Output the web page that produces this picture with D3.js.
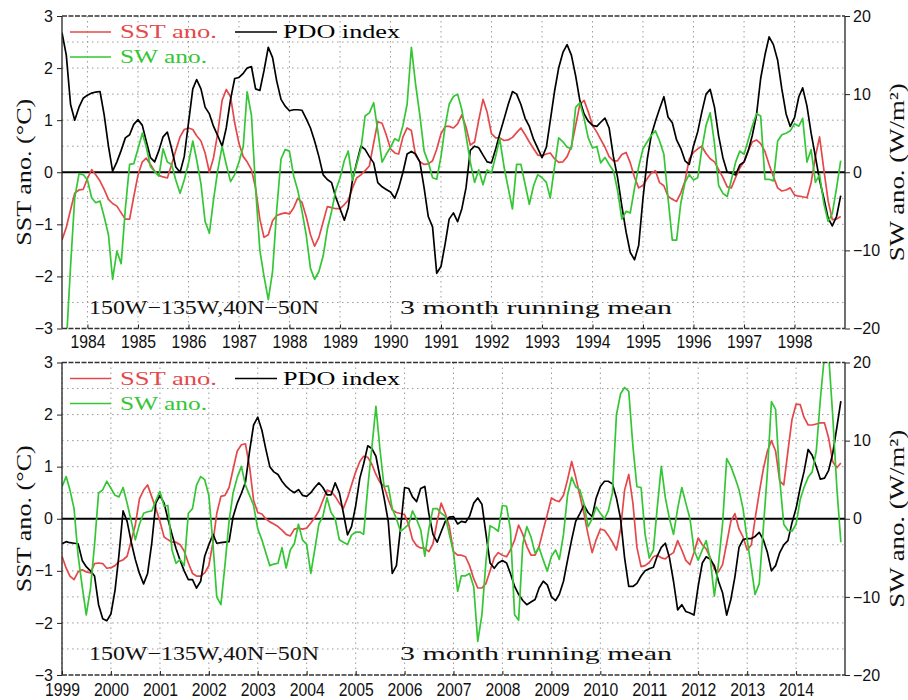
<!DOCTYPE html>
<html><head><meta charset="utf-8">
<script src="https://cdn.jsdelivr.net/npm/d3@7"></script>
<style>body{margin:0;background:#fff}</style>
</head><body><svg id="c" width="908" height="700"></svg>
<script>
// ---------------- DATA ----------------
// Top panel: monthly values, Jul 1983 .. Dec 1998 (3 month running mean)
const topStart = [1983, 7];
const topSST = [-1.3,-1.06,-0.72,-0.4,-0.34,-0.33,-0.12,0.05,-0.05,-0.17,
-0.33,-0.52,-0.6,-0.65,-0.78,-0.9,-0.9,-0.47,-0.05,0.2,
0.27,0.15,0.02,-0.06,-0.09,-0.11,0.15,0.42,0.68,0.82,
0.85,0.82,0.7,0.6,0.37,0.0,0.28,0.76,1.38,1.59,
1.45,0.95,0.55,0.3,0.2,0.05,-0.3,-0.9,-1.25,-1.2,
-0.93,-0.83,-0.8,-0.78,-0.8,-0.68,-0.5,-0.58,-0.85,-1.2,
-1.42,-1.25,-0.95,-0.66,-0.68,-0.7,-0.7,-0.62,-0.54,-0.3,
-0.11,-0.05,0.03,0.12,0.56,0.97,0.94,0.72,0.45,0.37,
0.35,0.68,0.85,0.8,0.33,0.2,0.15,0.16,0.22,0.44,
0.74,0.88,0.88,0.85,0.93,1.1,0.87,0.52,0.58,1.0,
1.4,1.15,0.74,0.66,0.66,0.61,0.62,0.67,0.76,0.85,
0.72,0.58,0.45,0.33,0.32,0.35,0.37,0.26,0.19,0.2,
0.3,0.5,0.9,1.3,1.38,1.16,0.9,0.77,0.63,0.48,
0.3,0.22,0.22,0.34,0.38,0.18,-0.1,-0.3,-0.25,-0.12,
-0.02,0.03,-0.2,-0.26,-0.46,-0.52,-0.56,-0.4,-0.17,0.25,
0.38,0.45,0.5,0.36,0.26,0.2,0.05,-0.1,-0.28,-0.3,
-0.1,0.08,0.2,0.42,0.58,0.62,0.55,0.4,0.15,-0.08,
-0.3,-0.36,-0.34,-0.3,-0.44,-0.46,-0.47,-0.49,-0.2,0.3,
0.68,0.05,-0.55,-0.91,-0.9,-0.85];
const topPDO = [2.68,2.25,1.3,1.0,1.25,1.42,1.48,1.52,1.54,1.55,
1.1,0.5,0.02,0.2,0.42,0.66,0.72,0.92,1.01,0.9,
0.6,0.28,0.2,0.42,0.68,0.77,0.45,0.1,0.0,0.3,
0.95,1.6,1.78,1.6,1.25,1.12,0.88,0.7,0.5,0.85,
1.4,1.8,1.82,1.9,2.0,2.03,1.6,1.57,1.95,2.4,
2.2,1.75,1.4,1.27,1.18,1.2,1.2,1.19,1.03,0.85,
0.6,0.3,-0.05,-0.14,-0.2,-0.48,-0.7,-0.92,-0.68,-0.15,
0.18,0.5,0.44,0.3,0.18,-0.2,-0.28,-0.33,-0.38,-0.5,
-0.3,0.0,0.35,0.4,0.35,0.2,-0.3,-0.85,-1.05,-1.94,
-1.81,-1.36,-0.9,-0.78,-0.95,-0.7,-0.3,0.42,0.5,0.47,
0.33,0.2,0.18,0.45,0.74,1.02,1.3,1.55,1.5,1.3,
1.03,0.88,0.63,0.46,0.28,0.48,0.98,1.55,2.0,2.3,
2.45,2.25,1.85,1.38,1.12,0.98,0.9,0.88,0.96,1.04,
0.85,0.3,-0.1,-0.65,-1.15,-1.54,-1.68,-1.4,-0.5,0.25,
0.7,0.98,1.22,1.45,1.06,0.95,0.62,0.46,0.22,0.15,
0.5,0.78,1.15,1.5,1.59,1.25,0.7,0.28,0.0,-0.02,
-0.05,0.14,0.2,0.42,0.7,1.1,1.8,2.25,2.6,2.45,
2.15,1.6,1.12,0.88,1.05,1.45,1.62,1.27,0.75,0.3,
-0.15,-0.5,-0.88,-1.03,-0.85,-0.45];
const topSW = [-26,-22,-12,-3.3,-0.2,-0.3,-1.0,-3.3,-3.9,-3.7,
-5.7,-8.0,-13.7,-10.1,-11.7,-4.7,1.0,1.1,3.0,5.0,
3.3,0.7,0.1,-0.5,3.0,1.3,1.0,-1.0,-2.7,-1.0,
1.2,4.0,1.6,-1.5,-6.3,-7.8,-3.5,0.3,3.3,1.0,
-1.2,-0.3,1.3,3.3,10.3,7.3,-2.0,-10.0,-13.3,-16.3,
-12.7,-4.8,1.7,2.9,2.7,-0.5,-2.3,-5.0,-8.0,-12.3,
-13.7,-12.7,-10.7,-7.3,-5.0,-2.3,-0.7,1.5,2.7,-1.0,
1.0,3.0,7.2,7.6,8.9,5.3,1.3,2.3,3.2,4.3,
4.0,6.0,8.7,16.0,11.3,7.3,2.7,1.3,-0.7,-0.9,
2.0,6.0,8.7,9.7,10.0,8.0,4.7,1.3,-1.3,0.3,
-1.6,0.3,-0.1,2.1,4.3,0.7,-2.0,-4.7,1.0,1.0,
-1.6,-4.1,-1.7,-0.3,-0.7,-1.3,-3.3,0.7,4.4,3.9,
3.2,3.0,8.3,8.9,6.9,4.4,3.1,3.3,1.2,1.9,
1.0,0.2,-2.3,-6.0,-5.0,-5.2,-2.0,0.7,3.0,3.9,
4.7,5.3,4.0,2.3,-3.3,-8.7,-8.7,-4.0,-1.3,-0.3,
-1.0,-0.7,2.9,6.0,7.6,3.7,-1.7,-2.7,-3.1,-1.0,
1.3,2.7,2.3,4.2,5.9,7.5,7.2,-0.9,-0.9,-1.1,
4.0,4.8,5.0,5.3,6.2,5.9,6.9,1.3,2.9,-1.3,
-0.3,-4.0,-6.3,-5.3,-2.0,1.5];

// Bottom panel: monthly values, Jan 1999 .. Dec 2014
const botStart = [1999, 1];
const botSST = [-0.72,-0.95,-1.1,-1.17,-1.02,-0.98,-1.02,-1.04,-0.86,-0.85,
-0.86,-0.95,-0.94,-0.9,-0.82,-0.79,-0.72,-0.42,-0.12,0.38,
0.55,0.65,0.42,0.2,-0.05,-0.35,-0.4,-0.45,-0.45,-0.5,
-0.62,-0.85,-1.05,-1.1,-1.1,-1.04,-0.9,-0.45,0.1,0.43,
0.45,0.6,0.95,1.3,1.42,1.44,1.0,0.35,0.12,0.09,
0.0,-0.06,-0.1,-0.15,-0.22,-0.3,-0.33,-0.2,-0.18,-0.2,
-0.18,-0.08,0.02,0.15,0.35,0.55,0.52,0.43,0.3,0.2,
0.4,0.65,0.9,1.1,1.2,1.18,1.05,0.85,0.7,0.62,
0.37,0.17,0.12,0.1,0.08,-0.12,-0.4,-0.52,-0.56,-0.57,
-0.63,-0.48,-0.05,0.3,0.1,-0.15,-0.63,-0.7,-0.7,-0.73,
-0.9,-1.15,-1.33,-1.33,-1.24,-1.0,-0.75,-0.65,-0.7,-0.73,
-0.6,-0.41,-0.12,-0.3,-0.53,-0.7,-0.7,-0.53,-0.21,0.08,
0.4,0.35,0.33,0.45,0.75,1.1,0.8,0.45,0.1,-0.3,
-0.65,-0.4,-0.2,-0.22,-0.32,-0.45,-0.6,-0.2,0.55,0.85,
0.3,-0.55,-0.92,-0.9,-0.84,-0.73,-0.7,-0.75,-0.77,-0.7,
-0.65,-0.42,-0.6,-0.8,-0.88,-0.65,-0.37,-0.5,-0.58,-0.75,
-0.97,-1.02,-0.88,-0.47,-0.05,0.1,-0.2,-0.35,-0.6,-0.5,
0.0,0.5,0.95,1.3,1.5,1.3,0.72,0.65,1.3,1.9,
2.2,2.19,1.95,1.8,1.8,1.82,1.84,1.84,1.55,1.1,
0.98,1.07];
const botPDO = [-0.48,-0.44,-0.46,-0.47,-0.48,-0.8,-0.92,-1.0,-1.1,-1.65,
-1.92,-1.96,-1.83,-1.37,-0.7,0.15,-0.05,-0.45,-0.78,-1.05,
-1.25,-1.05,-0.47,0.3,0.45,0.3,0.0,-0.3,-0.57,-0.8,
-1.0,-1.17,-1.17,-1.33,-1.2,-0.72,-0.5,-0.3,-0.47,-0.46,
-0.45,-0.44,0.04,0.3,0.49,0.7,1.3,1.8,1.95,1.7,
1.35,1.0,0.9,0.85,0.72,0.62,0.55,0.5,0.56,0.45,
0.43,0.5,0.6,0.69,0.6,0.46,0.46,0.69,0.5,0.11,
-0.31,-0.15,0.25,0.78,1.05,1.4,1.35,1.2,0.8,0.4,
-0.05,-1.05,-0.9,-0.2,0.6,0.58,0.42,0.33,0.58,0.62,
0.1,-0.3,-0.45,-0.25,-0.05,0.03,0.04,-0.1,-0.05,-0.07,
0.05,0.3,0.4,0.28,-0.3,-0.85,-0.95,-0.85,-0.8,-0.85,
-1.05,-1.3,-1.45,-1.57,-1.65,-1.6,-1.55,-1.33,-1.2,-1.27,
-1.5,-1.57,-1.45,-1.2,-0.8,-0.4,-0.05,0.1,0.26,0.12,
0.04,0.4,0.62,0.72,0.72,0.67,0.4,0.0,-0.75,-1.3,
-1.3,-1.24,-1.1,-1.0,-0.96,-0.93,-0.72,-0.55,-0.47,-0.75,
-1.2,-1.75,-1.65,-1.78,-1.81,-1.85,-1.3,-0.85,-0.73,-0.78,
-0.9,-1.2,-1.42,-1.85,-1.55,-1.12,-0.55,-0.4,-0.38,-0.38,
-0.34,-0.26,-0.4,-0.65,-1.0,-0.9,-0.65,-0.5,-0.42,-0.08,
0.2,0.6,0.9,1.33,1.22,1.0,0.76,0.78,0.93,1.25,
1.75,2.26];
const botSW = [4.1,5.4,3.7,1.3,-4.7,-8.7,-12.3,-9.0,-3.3,3.3,
3.7,4.8,3.9,3.0,2.8,4.0,2.0,-0.3,-2.7,-0.7,
0.7,0.9,1.0,2.3,3.5,1.6,1.7,-4.0,-5.7,-5.2,
-6.0,0.7,1.3,4.3,5.4,5.0,3.0,-3.3,-10.0,-11.0,
-6.0,-0.3,3.3,5.3,6.7,4.3,3.0,1.7,-1.3,-2.7,
-4.3,-6.0,-5.8,-5.7,-3.7,-6.3,-4.0,-3.2,-0.7,-2.7,
-3.3,-7.0,-4.0,-0.7,0.3,2.7,0.8,0.0,-2.7,-3.0,
-3.3,-2.1,-1.7,-1.7,-2.0,4.0,9.0,14.4,8.9,4.1,
4.2,1.3,0.0,-1.6,-1.2,-0.7,1.0,-0.1,-1.4,-4.8,
-1.3,1.3,1.3,0.7,0.3,-2.0,-4.3,-9.3,-7.3,-7.3,
-7.0,-8.7,-15.7,-12.3,-5.3,-0.9,-1.2,-1.6,1.7,1.6,
-1.4,-12.3,-13.0,-3.3,-1.0,-2.3,-4.4,-3.7,-5.3,-6.7,
-4.8,-4.0,-5.2,-2.0,3.0,5.3,4.1,3.7,1.9,-1.0,
0.0,1.5,0.7,0.0,1.0,3.3,13.3,16.0,16.8,16.3,
9.3,4.1,4.0,-2.0,-5.0,-4.0,1.3,6.7,2.7,0.0,
-2.0,1.3,4.0,2.0,0.0,-4.0,-5.3,-4.0,-2.8,-5.3,
-9.9,-5.7,-0.7,7.7,6.7,5.3,3.7,1.3,-2.7,-6.3,
-9.7,-8.3,-1.3,6.0,15.0,14.0,5.0,-0.7,-1.5,-1.6,
-0.7,2.5,4.0,5.3,6.0,8.7,15.3,21.0,21.0,13.3,
4.0,-3.0];

// Axis tick values and labels
const sstTicks = [-3, -2, -1, 0, 1, 2, 3];
const swTicks = [-20, -10, 0, 10, 20];
const topYears = d3.range(1984, 1999);
const botYears = d3.range(1999, 2015);
const legendLabels = ["SST ano.", "SW ano.", "PDO index"];
const regionLabel = "150W\u2212135W,40N\u221250N";
const meanLabel = "3 month running mean";
const leftTitle = "SST ano. (\u00B0C)";
const rightTitle = "SW ano. (W/m\u00B2)";

// ---------------- DRAW ----------------
const RED = "#e5484b", GREEN = "#34c634", BLACK = "#000";
const L = 62, R = 845;
const svg = d3.select("#c");
const SERIF = "'Liberation Serif', 'DejaVu Serif', serif";
const SANS = "'Liberation Sans', Arial, sans-serif";

const panels = [
  {start: topStart, endYear: 1999, top: 16, bot: 328.5, sst: topSST, pdo: topPDO, sw: topSW, years: topYears, labPad: 7},
  {start: botStart, endYear: 2015, top: 362.5, bot: 675, sst: botSST, pdo: botPDO, sw: botSW, years: botYears, labPad: 8}
];

panels.forEach((p, k) => {
  const t0 = new Date(p.start[0], p.start[1] - 1, 1);
  const x = d3.scaleTime().domain([t0, new Date(p.endYear, 0, 1)]).range([L, R]);
  const y = d3.scaleLinear().domain([-3, 3]).range([p.bot, p.top]);
  const y2 = d3.scaleLinear().domain([-20, 20]).range([p.bot, p.top]);
  const dates = p.sst.map((_, i) => new Date(p.start[0], p.start[1] - 1 + i, 1));
  const g = svg.append("g");

  // grid
  const hg = d3.range(-5, 6).map(v => v / 2).filter(v => v !== 0 && Math.abs(v) < 3);
  g.selectAll(".hg").data(hg).join("line")
    .attr("x1", L).attr("x2", R).attr("y1", d => y(d)).attr("y2", d => y(d))
    .attr("stroke", "#9a9a9a").attr("stroke-width", 1).attr("stroke-dasharray", "1.5,3.5");
  g.selectAll(".vg").data(p.years).join("line")
    .attr("x1", d => x(new Date(d, 0, 1))).attr("x2", d => x(new Date(d, 0, 1)))
    .attr("y1", p.top).attr("y2", p.bot)
    .attr("stroke", "#9a9a9a").attr("stroke-width", 1).attr("stroke-dasharray", "1.5,3.5");

  // zero line
  g.append("line").attr("x1", L).attr("x2", R).attr("y1", y(0)).attr("y2", y(0))
    .attr("stroke", "#000").attr("stroke-width", 2);

  // clip
  const cid = "clip" + k;
  svg.append("clipPath").attr("id", cid).append("rect")
    .attr("x", L).attr("y", p.top).attr("width", R - L).attr("height", p.bot - p.top);

  const mk = (sc) => d3.line().x((d, i) => x(dates[i])).y(d => sc(d));
  const lines = g.append("g").attr("clip-path", `url(#${cid})`).attr("fill", "none")
    .attr("stroke-width", 1.7).attr("stroke-linejoin", "round");
  lines.append("path").attr("d", mk(y)(p.sst)).attr("stroke", RED);
  lines.append("path").attr("d", mk(y)(p.pdo)).attr("stroke", BLACK);
  lines.append("path").attr("d", mk(y2)(p.sw)).attr("stroke", GREEN);

  // frame
  g.append("line").attr("x1", L).attr("x2", L).attr("y1", p.top).attr("y2", p.bot).attr("stroke", "#222").attr("stroke-width", 1.3);
  g.append("line").attr("x1", R).attr("x2", R).attr("y1", p.top).attr("y2", p.bot).attr("stroke", "#222").attr("stroke-width", 1.3);
  [p.top, p.bot].forEach(yy => g.append("line").attr("x1", L).attr("x2", R).attr("y1", yy).attr("y2", yy)
    .attr("stroke", "#333").attr("stroke-width", 1.3).attr("stroke-dasharray", "5,1.5"));

  // left axis
  const la = g.append("g").attr("transform", `translate(${L},0)`)
    .call(d3.axisLeft(y).tickValues(sstTicks).tickSize(5).tickPadding(4).tickFormat(d3.format("d")));
  la.select(".domain").remove();
  la.selectAll("text").attr("font-family", SANS).attr("font-size", 16).attr("fill", "#111");
  la.selectAll("line").attr("stroke", "#222");

  // right axis
  const ra = g.append("g").attr("transform", `translate(${R},0)`)
    .call(d3.axisRight(y2).tickValues(swTicks).tickSize(5).tickPadding(3).tickFormat(d3.format("d")));
  ra.select(".domain").remove();
  ra.selectAll("text").attr("font-family", SANS).attr("font-size", 16).attr("fill", "#111");
  ra.selectAll("line").attr("stroke", "#222");

  // bottom axis
  const ba = g.append("g").attr("transform", `translate(0,${p.bot})`)
    .call(d3.axisBottom(x).tickValues(p.years.map(d => new Date(d, 0, 1)))
      .tickSizeInner(-4).tickSizeOuter(0).tickPadding(p.labPad).tickFormat(d3.timeFormat("%Y")));
  ba.select(".domain").remove();
  ba.selectAll("text").attr("font-family", SANS).attr("font-size", 18).attr("fill", "#111")
    .attr("textLength", 35).attr("lengthAdjust", "spacingAndGlyphs");
  ba.selectAll("line").attr("stroke", "#222");

  // legend
  const off = p.top - 16;
  const leg = [
    {x1: 70, x2: 111, y: 32, tx: 120, ty: 38, len: 97, c: RED, t: legendLabels[0]},
    {x1: 70, x2: 111, y: 57, tx: 120, ty: 63, len: 87, c: GREEN, t: legendLabels[1]},
    {x1: 235, x2: 277, y: 32, tx: 283, ty: 38, len: 117, c: BLACK, t: legendLabels[2]}
  ];
  leg.forEach(d => {
    g.append("line").attr("x1", d.x1).attr("x2", d.x2).attr("y1", d.y + off).attr("y2", d.y + off)
      .attr("stroke", d.c).attr("stroke-width", 1.7);
    g.append("text").attr("x", d.tx).attr("y", d.ty + off).attr("fill", d.c)
      .attr("font-family", SERIF).attr("font-size", 19)
      .attr("textLength", d.len).attr("lengthAdjust", "spacingAndGlyphs").text(d.t);
  });

  // annotations
  g.append("text").attr("x", 89).attr("y", p.bot - 15).attr("font-family", SERIF).attr("font-size", 19)
    .attr("fill", "#111").attr("textLength", 230).attr("lengthAdjust", "spacingAndGlyphs").text(regionLabel);
  g.append("text").attr("x", 400).attr("y", p.bot - 15).attr("font-family", SERIF).attr("font-size", 19)
    .attr("fill", "#111").attr("textLength", 272).attr("lengthAdjust", "spacingAndGlyphs").text(meanLabel);

  // axis titles
  const cy = (p.top + p.bot) / 2;
  g.append("text").attr("transform", `translate(31,${cy}) rotate(-90)`).attr("text-anchor", "middle")
    .attr("font-family", SERIF).attr("font-size", 21).attr("fill", "#111")
    .attr("textLength", 147).attr("lengthAdjust", "spacingAndGlyphs").text(leftTitle);
  g.append("text").attr("transform", `translate(904,${cy}) rotate(-90)`).attr("text-anchor", "middle")
    .attr("font-family", SERIF).attr("font-size", 21).attr("fill", "#111")
    .attr("textLength", 178).attr("lengthAdjust", "spacingAndGlyphs").text(rightTitle);
});
</script>
</body></html>
